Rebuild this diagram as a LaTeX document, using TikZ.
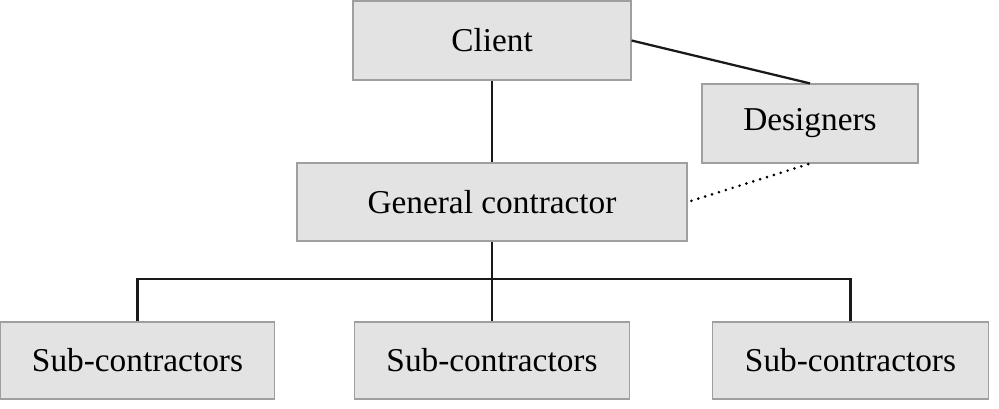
\documentclass[tikz,border=0pt]{standalone}
\usepackage{fontspec}
\setmainfont{Liberation Serif}
\usetikzlibrary{calc}

\begin{document}
\begin{tikzpicture}[
		x=0.75pt,
		y=-0.75pt,
		font=\fontsize{25}{30}\selectfont,
		box/.style={draw=gray!75, line width=0.9pt, fill=gray!22, inner sep=0pt, minimum height=58.5pt},
		link/.style={line width=1.7pt, black!90},
		loose/.style={line width=2.2pt, line cap=round, dash pattern=on 0pt off 5.4pt, black}
		]
		\useasboundingbox (0,0) rectangle (999,408);
		
		% top level
		\node[box, minimum width=208.5pt, minimum height=59.25pt] (client) at (492,40.5) {Client};
		\node[box, minimum width=162pt, minimum height=59.25pt] (designers) at (810,123.5) {Designers};
		\node[box, minimum width=292.5pt] (gc) at (492,202) {General contractor};
		
		% sub-contractors
		\node[box, minimum width=206pt, minimum height=57.75pt] (sub1) at (137.5,360.5) {Sub-contractors};
		\node[box, minimum width=206pt, minimum height=57.75pt] (sub2) at (492,360.5) {Sub-contractors};
		\node[box, minimum width=207pt, minimum height=57.75pt] (sub3) at (850.5,360.5) {Sub-contractors};
		\coordinate (bar) at (492,279);
		
		% links
		\draw[link] (client.south) -- (gc.north);
		\draw[link] (client.east) -- (designers.north);
		\draw[loose, shorten <=3pt] (gc.east) -- (designers.south);
		\draw[link] (gc.south) -- (sub2.north);
		\draw[link] (sub1.north) |- (bar) -| (sub3.north);
		
	\end{tikzpicture}
\end{document}
